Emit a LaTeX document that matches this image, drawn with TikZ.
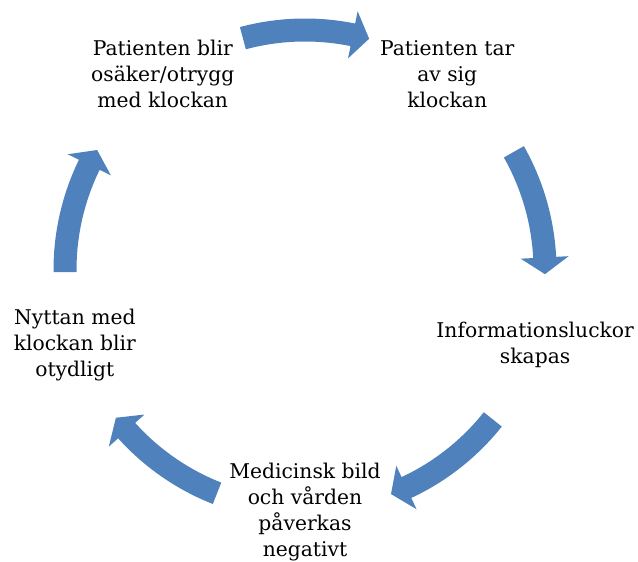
\documentclass[tikz,border=0pt]{standalone}
\usepackage{fontspec}
\setmainfont{DejaVu Serif}
\usepackage{tikz}

\definecolor{cycleblue}{HTML}{4F81BD}

\begin{document}
\begin{tikzpicture}[
        every node/.style={align=center,inner sep=0pt,
          font=\fontsize{20.3}{26}\selectfont},
        cyclearrow/.style={fill=cycleblue}
      ]
        \useasboundingbox (-305pt,-292pt) rectangle (333pt,270pt);
        % text of the cycle
        \node (taroff)  at (54:242pt)  {Patienten tar\\av sig\\klockan};
        \node (luckor)  at (-18:242pt) {Informationsluckor\\skapas};
        \node (bild)    at (-90:242pt) {Medicinsk bild\\och vården\\påverkas\\negativt};
        \node (nytta)   at (198:242pt) {Nyttan med\\klockan blir\\otydligt};
        \node (osaker)  at (126:242pt) {Patienten blir\\osäker/otrygg\\med klockan};
        % curved block arrows, clockwise
        \foreach \a in {90,14.5,-53.5,-126.5,165.5}
          \fill[cyclearrow] (\a+15:228.5pt)
            arc[start angle=\a+15, end angle=\a-11.5, radius=228.5pt]
            -- (\a-11.5:216pt) -- (\a-15.5:240pt) -- (\a-11.5:264pt)
            -- (\a-11.5:251.5pt)
            arc[start angle=\a-11.5, end angle=\a+15, radius=251.5pt]
            -- cycle;
      \end{tikzpicture}
\end{document}
